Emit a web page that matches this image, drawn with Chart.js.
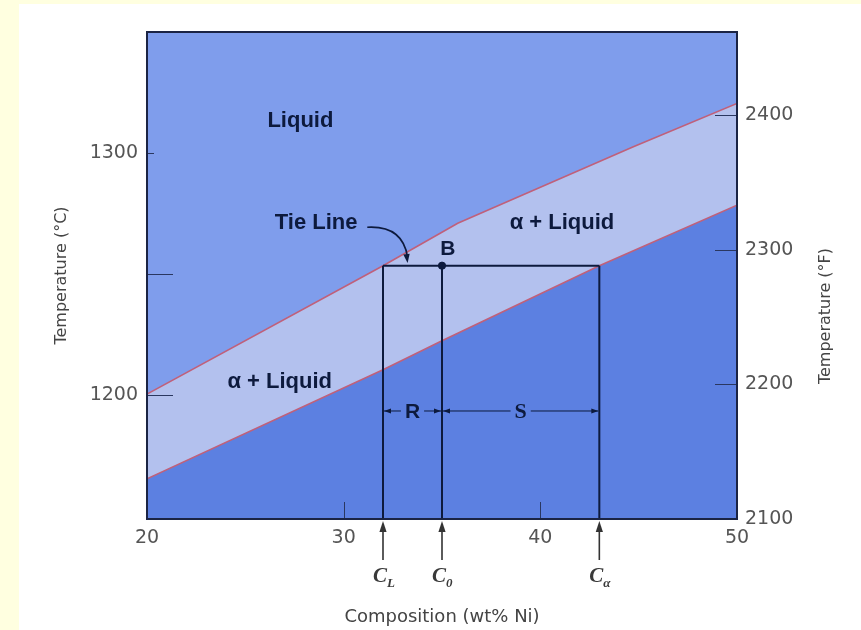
<!DOCTYPE html>
<html>
<head>
<meta charset="utf-8">
<script src="https://cdn.jsdelivr.net/npm/chart.js@4.4.1/dist/chart.umd.min.js"></script>
<style>
  html, body { margin: 0; padding: 0; background: #ffffff; }
  #wrap { width: 861px; height: 630px; }
</style>
</head>
<body>
<div id="wrap"><canvas id="c" width="861" height="630"></canvas></div>
<script>
// ---------------- Data ----------------
const liquidusComp = [20, 32, 35.8, 44.7, 50];            // wt% Ni
const liquidusTemp = [1200.5, 1253.5, 1271, 1302.5, 1320.5]; // °C
const solidusComp  = [20, 32, 35, 43, 50];
const solidusTemp  = [1165.5, 1210.5, 1222.5, 1253.5, 1278.5];
const tieComp      = [32, 35, 43];      // C_L, C_0, C_alpha
const tieNames     = ['L', '0', 'α'];
const tieTemp      = 1253.5;            // °C, tie line through B
const dimTemp      = 1193.5;            // °C, level of the R / S dimension arrows
const compTicks    = [20, 30, 40, 50];
const tempCTicks   = [1200, 1300];
const tempCMinor   = [1250];
const tempFTicks   = [2100, 2200, 2300, 2400];
const compRange    = [20, 50];
const tempCRange   = [1148.9, 1350];
const tempFRange   = tempCRange.map(c => c * 9 / 5 + 32);

// Annotation anchors in data units
const regionLabels = [
  { text: 'Liquid',     x: 27.8, y: 1313.3 },
  { text: 'Tie Line',   x: 28.6, y: 1271.1 },
  { text: 'α + Liquid', x: 41.1, y: 1271.1 },
  { text: 'α + Liquid', x: 26.75, y: 1205.6 },
  { text: 'B',          x: 35.3, y: 1260.4 }
];
const tiePointer = { from: [31.2, 1269.4], ctrl: [33.0, 1270.2], to: [33.25, 1254.6] };

// ---------------- Styles ----------------
const colLiquid = '#7f9dec';
const colTwo    = '#b3c1ee';
const colSolid  = '#5c80e1';
const colCurve  = '#c0607a';
const colInk    = '#0d1a3d';
const colFrame  = '#1b2444';
const colGrey   = '#555555';

const pts = (xs, ys) => xs.map((x, i) => ({ x: x, y: ys[i] }));

function arrowHead(ctx, tx, ty, dx, dy, len, half) {
  const l = Math.hypot(dx, dy), ux = dx / l, uy = dy / l;
  ctx.beginPath();
  ctx.moveTo(tx, ty);
  ctx.lineTo(tx - ux * len - uy * half, ty - uy * len + ux * half);
  ctx.lineTo(tx - ux * len + uy * half, ty - uy * len - ux * half);
  ctx.closePath();
  ctx.fill();
}

const diagramPlugin = {
  id: 'diagram',
  beforeDraw(chart) {
    const { ctx, width, height } = chart;
    ctx.save();
    ctx.fillStyle = '#ffffe0';
    ctx.fillRect(0, 0, width, height);
    ctx.fillStyle = '#ffffff';
    ctx.fillRect(19, 4, width - 19, height - 4);
    ctx.restore();
  },
  beforeDatasetsDraw(chart) {
    const { ctx, chartArea: a } = chart;
    ctx.save();
    ctx.fillStyle = colTwo;
    ctx.fillRect(a.left, a.top, a.right - a.left, a.bottom - a.top);
    ctx.restore();
  },
  afterDatasetsDraw(chart) {
    const { ctx, scales } = chart;
    const X = v => scales.x.getPixelForValue(v);
    const Y = v => scales.y.getPixelForValue(v);
    ctx.save();
    // region labels
    ctx.fillStyle = colInk;
    ctx.textAlign = 'center';
    ctx.textBaseline = 'middle';
    regionLabels.forEach(l => {
      ctx.font = (l.text === 'B' ? 'bold 21px' : 'bold 22px') + ' "Liberation Sans", Arial, sans-serif';
      ctx.fillText(l.text, X(l.x), Y(l.y));
    });
    // tie line pointer
    const p0 = [X(tiePointer.from[0]), Y(tiePointer.from[1])];
    const pc = [X(tiePointer.ctrl[0]), Y(tiePointer.ctrl[1])];
    const p1 = [X(tiePointer.to[0]), Y(tiePointer.to[1])];
    ctx.strokeStyle = colInk;
    ctx.lineWidth = 1.6;
    ctx.beginPath();
    ctx.moveTo(p0[0], p0[1]);
    ctx.quadraticCurveTo(pc[0], pc[1], p1[0], p1[1] - 6);
    ctx.stroke();
    arrowHead(ctx, p1[0], p1[1], 0.12, 1, 9, 3.2);
    // R and S dimension arrows
    const yd = Y(dimTemp);
    const xs = tieComp.map(X);
    const dims = [
      { t: 'R', a: xs[0], b: xs[1], font: 'bold 21px "Liberation Sans", Arial, sans-serif' },
      { t: 'S', a: xs[1], b: xs[2], font: 'bold 22px "Liberation Serif", serif' }
    ];
    ctx.lineWidth = 1;
    dims.forEach(d => {
      ctx.font = d.font;
      const mid = (d.a + d.b) / 2;
      const w = ctx.measureText(d.t).width;
      ctx.fillText(d.t, mid, yd + 1);
      const l1 = mid - w / 2 - 4, r1 = mid + w / 2 + 4;
      ctx.beginPath();
      ctx.moveTo(d.a + 1, yd); ctx.lineTo(l1, yd);
      ctx.moveTo(r1, yd); ctx.lineTo(d.b - 1, yd);
      ctx.stroke();
      arrowHead(ctx, d.a + 1, yd, -1, 0, 7, 2.6);
      arrowHead(ctx, d.b - 1, yd, 1, 0, 7, 2.6);
    });
    ctx.restore();
  },
  afterDraw(chart) {
    const { ctx, chartArea: a, scales } = chart;
    const X = v => scales.x.getPixelForValue(v);
    ctx.save();
    // inward tick marks
    ctx.strokeStyle = '#2a3760';
    ctx.lineWidth = 1;
    ctx.beginPath();
    tempCTicks.concat(tempCMinor).forEach(v => {
      const y = Math.round(scales.y.getPixelForValue(v)) + 0.5;
      ctx.moveTo(a.left, y); ctx.lineTo(a.left + (v === 1300 ? 7 : 26), y);
    });
    tempFTicks.forEach(v => {
      const y = Math.round(scales.y2.getPixelForValue(v)) + 0.5;
      if (y < a.bottom - 2) { ctx.moveTo(a.right, y); ctx.lineTo(a.right - 22, y); }
    });
    compTicks.forEach(v => {
      const x = Math.round(X(v)) + 0.5;
      if (x > a.left + 2 && x < a.right - 2) { ctx.moveTo(x, a.bottom); ctx.lineTo(x, a.bottom - 17); }
    });
    ctx.stroke();
    // frame
    ctx.strokeStyle = colFrame;
    ctx.lineWidth = 2;
    ctx.strokeRect(a.left, a.top, a.right - a.left, a.bottom - a.top);
    // composition pointers below the axis
    ctx.fillStyle = '#333333';
    ctx.strokeStyle = '#333333';
    ctx.lineWidth = 1.6;
    tieComp.forEach((c, i) => {
      const x = X(c);
      ctx.beginPath();
      ctx.moveTo(x, a.bottom + 41); ctx.lineTo(x, a.bottom + 10);
      ctx.stroke();
      arrowHead(ctx, x, a.bottom + 2, 0, -1, 11, 3.6);
      ctx.textBaseline = 'alphabetic';
      ctx.textAlign = 'right';
      ctx.font = 'italic bold 21px "Liberation Serif", serif';
      ctx.fillStyle = '#3a3a3a';
      ctx.fillText('C', x + 4, a.bottom + 63);
      ctx.textAlign = 'left';
      ctx.font = 'italic bold 13px "Liberation Serif", serif';
      ctx.fillText(tieNames[i], x + 4, a.bottom + 68);
      ctx.fillStyle = '#333333';
    });
    // right axis title (reads bottom to top)
    ctx.save();
    ctx.translate(826, 316);
    ctx.rotate(-Math.PI / 2);
    ctx.fillStyle = '#444444';
    ctx.font = '16px "DejaVu Sans", sans-serif';
    ctx.textAlign = 'center';
    ctx.textBaseline = 'middle';
    ctx.fillText('Temperature (°F)', 0, 0);
    ctx.restore();
    ctx.restore();
  }
};

const tickFont = { family: 'DejaVu Sans', size: 19 };
const plainLabel = v => String(v);

new Chart(document.getElementById('c'), {
  type: 'line',
  data: {
    datasets: [
      { label: 'Liquidus', data: pts(liquidusComp, liquidusTemp), borderColor: colCurve, borderWidth: 1.6,
        backgroundColor: colLiquid, fill: 'end', pointRadius: 0, tension: 0, order: 10 },
      { label: 'Solidus', data: pts(solidusComp, solidusTemp), borderColor: colCurve, borderWidth: 1.6,
        backgroundColor: colSolid, fill: 'start', pointRadius: 0, tension: 0, order: 10 },
      { label: 'Tie line', data: pts([tieComp[0], tieComp[2]], [tieTemp, tieTemp]), borderColor: colInk,
        borderWidth: 2, pointRadius: 0, fill: false, order: 2 },
      ...tieComp.map((c, i) => ({ label: 'C' + tieNames[i], data: pts([c, c], [tieTemp, tempCRange[0]]),
        borderColor: colInk, borderWidth: 2, pointRadius: 0, fill: false, order: 2 })),
      { label: 'B', data: pts([tieComp[1]], [tieTemp]), showLine: false, pointRadius: 3.6,
        pointBackgroundColor: colInk, pointBorderColor: colInk, fill: false, order: 0 }
    ]
  },
  options: {
    responsive: false,
    animation: false,
    devicePixelRatio: 1,
    layout: { padding: { top: 32, left: 0, right: 0, bottom: 0 } },
    plugins: { legend: { display: false }, tooltip: { enabled: false } },
    scales: {
      x: {
        type: 'linear', position: 'bottom', min: compRange[0], max: compRange[1],
        afterBuildTicks: s => { s.ticks = compTicks.map(v => ({ value: v })); },
        afterFit: s => { s.height = 111; },
        grid: { display: false, drawTicks: false },
        border: { display: false },
        ticks: { font: tickFont, color: colGrey, padding: 8, maxRotation: 0, callback: plainLabel },
        title: { display: true, text: 'Composition (wt% Ni)', color: '#444444',
          font: { family: 'DejaVu Sans', size: 18 }, padding: { top: 0, bottom: 2 } }
      },
      y: {
        type: 'linear', position: 'left', min: tempCRange[0], max: tempCRange[1],
        afterBuildTicks: s => { s.ticks = tempCTicks.map(v => ({ value: v })); },
        afterFit: s => { s.width = 147; },
        grid: { display: false, drawTicks: false },
        border: { display: false },
        ticks: { font: tickFont, color: colGrey, padding: 9, callback: plainLabel },
        title: { display: true, text: 'Temperature (°C)', color: '#444444',
          font: { family: 'DejaVu Sans', size: 16 }, padding: { top: 52, bottom: 0 } }
      },
      y2: {
        type: 'linear', position: 'right', min: tempFRange[0], max: tempFRange[1],
        afterBuildTicks: s => { s.ticks = tempFTicks.map(v => ({ value: v })); },
        afterFit: s => { s.width = 124; },
        grid: { display: false, drawTicks: false },
        border: { display: false },
        ticks: { font: tickFont, color: colGrey, padding: 8, callback: plainLabel }
      }
    }
  },
  plugins: [diagramPlugin]
});
</script>
</body>
</html>
